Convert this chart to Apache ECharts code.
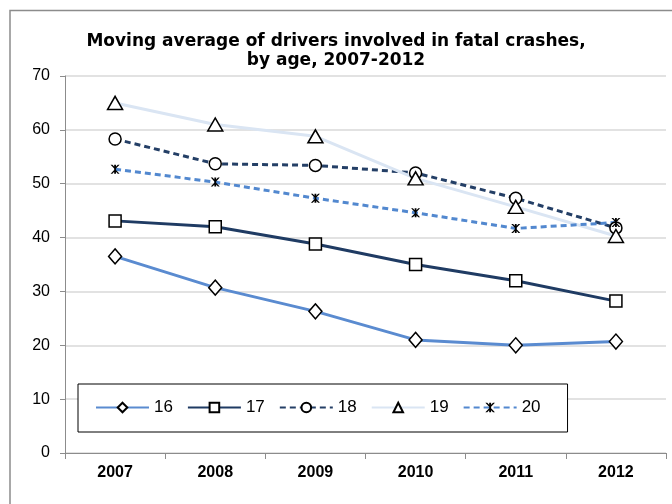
<!DOCTYPE html>
<html>
<head>
<meta charset="utf-8">
<script src="https://cdn.jsdelivr.net/npm/echarts@6/dist/echarts.min.js"></script>
<style>
html,body{margin:0;padding:0;background:#fff;}
#main{width:672px;height:504px;}
</style>
</head>
<body>
<div id="main"></div>
<script>
// 数据
var years = ['2007', '2008', '2009', '2010', '2011', '2012'];
var age16 = [36.5, 30.7, 26.3, 21.0, 20.0, 20.7];
var age17 = [43.1, 42.0, 38.8, 35.0, 32.0, 28.2];
var age18 = [58.3, 53.7, 53.4, 52.0, 47.3, 41.8];
var age19 = [65.0, 61.0, 58.8, 51.0, 45.7, 40.3];
var age20 = [52.7, 50.3, 47.3, 44.6, 41.7, 42.8];
var yTicks = [0, 10, 20, 30, 40, 50, 60, 70];

var FONT = '"Liberation Sans", Arial, sans-serif';
// 星号标记 (Excel的 * 标记)
var starPath = 'path://M0,0 L2,0 L5,3.2 L8,0 L10,0 L6,4.2 L6,5.8 L10,10 L8,10 L5,6.8 L2,10 L0,10 L4,5.8 L4,4.2 Z M4,0 L6,0 L6,10 L4,10 Z';

function makeSeries(name, data, color, dashed, symbol, size) {
    return {
        name: name,
        type: 'line',
        data: data,
        symbol: symbol,
        symbolSize: size,
        showAllSymbol: true,
        lineStyle: {
            color: color,
            width: 3,
            type: dashed ? [6, 4] : 'solid'
        },
        itemStyle: {
            color: symbol === starPath ? '#000' : '#fff',
            borderColor: '#000',
            borderWidth: symbol === starPath ? 0 : 1.5
        },
        emphasis: { disabled: true }
    };
}

var myChart = echarts.init(document.getElementById('main'));
var option = {
    animation: false,
    backgroundColor: '#fff',
    title: {
        text: 'Moving average of drivers involved in fatal crashes,\nby age, 2007-2012',
        left: 'center',
        top: 27,
        padding: [5, 0, 5, 12],
        textStyle: {
            fontFamily: '"DejaVu Sans", sans-serif',
            fontSize: 17,
            fontWeight: 'bold',
            color: '#000',
            lineHeight: 19
        }
    },
    graphic: [{
        type: 'rect',
        shape: { x: 10, y: 10.5, width: 720, height: 540 },
        style: { fill: 'none', stroke: '#8c8c8c', lineWidth: 1.5 },
        silent: true,
        z: -1
    }],
    grid: {
        left: 65,
        right: 6,
        top: 76,
        bottom: 51
    },
    legend: {
        left: 78,
        top: 384,
        padding: [15, 27, 16, 17],
        itemWidth: 53,
        itemHeight: 12,
        itemGap: 14,
        borderColor: '#000',
        borderWidth: 1,
        backgroundColor: '#fff',
        textStyle: {
            fontFamily: FONT,
            fontSize: 17,
            color: '#000'
        },
        data: ['16', '17', '18', '19', '20']
    },
    xAxis: {
        type: 'category',
        data: years,
        boundaryGap: true,
        axisLine: { lineStyle: { color: '#8c8c8c', width: 1 } },
        axisTick: { show: true, length: 6, lineStyle: { color: '#8c8c8c' } },
        axisLabel: {
            fontFamily: FONT,
            fontSize: 16,
            fontWeight: 'bold',
            color: '#000',
            margin: 12
        }
    },
    yAxis: {
        type: 'value',
        min: yTicks[0],
        max: yTicks[yTicks.length - 1],
        interval: 10,
        axisLine: { show: true, lineStyle: { color: '#8c8c8c', width: 1 } },
        axisTick: { show: true, length: 5, lineStyle: { color: '#8c8c8c' } },
        splitLine: { show: true, lineStyle: { color: '#d9d9d9', width: 1.5 } },
        axisLabel: {
            fontFamily: FONT,
            fontSize: 16,
            color: '#000',
            margin: 15
        }
    },
    series: [
        makeSeries('16', age16, '#5a8bd0', false, 'diamond', [13, 15]),
        makeSeries('17', age17, '#1f3b63', false, 'rect', 12),
        makeSeries('18', age18, '#243f66', true, 'circle', 12),
        makeSeries('19', age19, '#dae5f3', false, 'triangle', [15, 13]),
        makeSeries('20', age20, '#5288cf', true, starPath, 9)
    ]
};
myChart.setOption(option);
</script>
</body>
</html>
